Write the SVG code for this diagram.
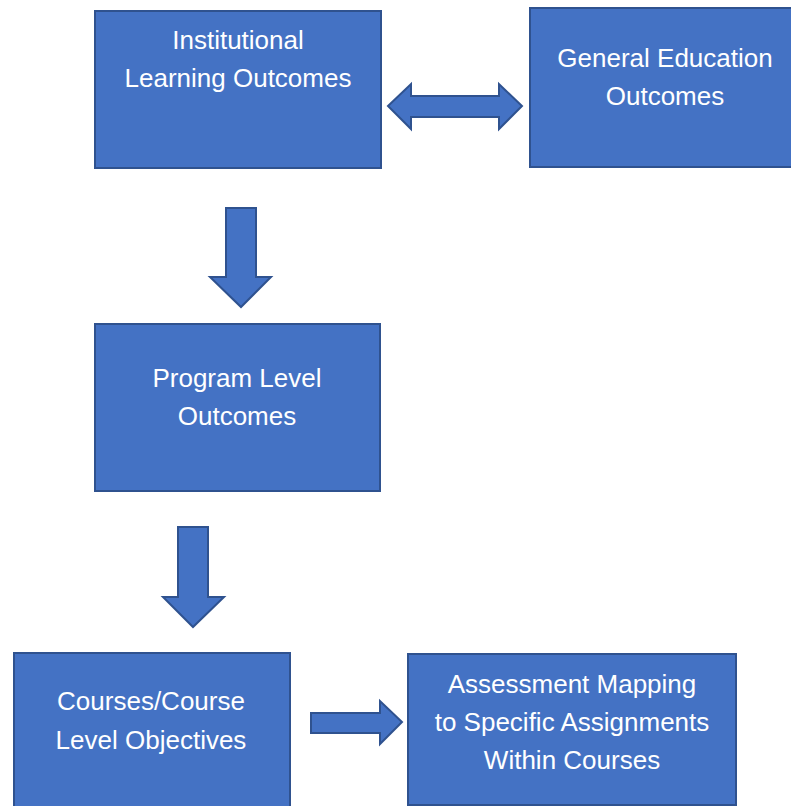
<svg xmlns="http://www.w3.org/2000/svg" width="791" height="806" viewBox="0 0 791 806">
<style>
.box{fill:#4472C4;stroke:#2F528F;stroke-width:2}
.arr{fill:#4472C4;stroke:#2F528F;stroke-width:2;stroke-linejoin:miter}
.t{font-family:"Liberation Sans",Arial,sans-serif;font-size:26px;fill:#FFFFFF;text-anchor:middle}
</style>
<rect width="791" height="806" fill="#FFFFFF"/>
<g id="node-ilo">
<rect class="box" x="95" y="11" width="286" height="157"/>
<text class="t" x="238" y="49">Institutional</text>
<text class="t" x="238" y="87">Learning Outcomes</text>
</g>
<g id="node-geo">
<rect class="box" x="530" y="8" width="262" height="159"/>
<text class="t" x="665" y="67">General Education</text>
<text class="t" x="665" y="105">Outcomes</text>
</g>
<g id="node-plo">
<rect class="box" x="95" y="324" width="285" height="167"/>
<text class="t" x="237" y="387">Program Level</text>
<text class="t" x="237" y="425">Outcomes</text>
</g>
<g id="node-clo">
<rect class="box" x="14" y="653" width="276" height="160"/>
<text class="t" x="151" y="710">Courses/Course</text>
<text class="t" x="151" y="749">Level Objectives</text>
</g>
<g id="node-am">
<rect class="box" x="408" y="654" width="328" height="151"/>
<text class="t" x="572" y="693">Assessment Mapping</text>
<text class="t" x="572" y="731">to Specific Assignments</text>
<text class="t" x="572" y="769">Within Courses</text>
</g>
<g id="connectors">
<path class="arr" d="M388,106 L411,84 L411,96 L499,96 L499,84 L522,106 L499,129 L499,117 L411,117 L411,129 Z"/>
<path class="arr" d="M226,208 L256,208 L256,277 L271,277 L241,307 L210,277 L226,277 Z"/>
<path class="arr" d="M178,527 L208,527 L208,597 L224,597 L193,627 L163,597 L178,597 Z"/>
<path class="arr" d="M311,713 L380,713 L380,701 L402,722 L380,744 L380,733 L311,733 Z"/>
</g>
</svg>
